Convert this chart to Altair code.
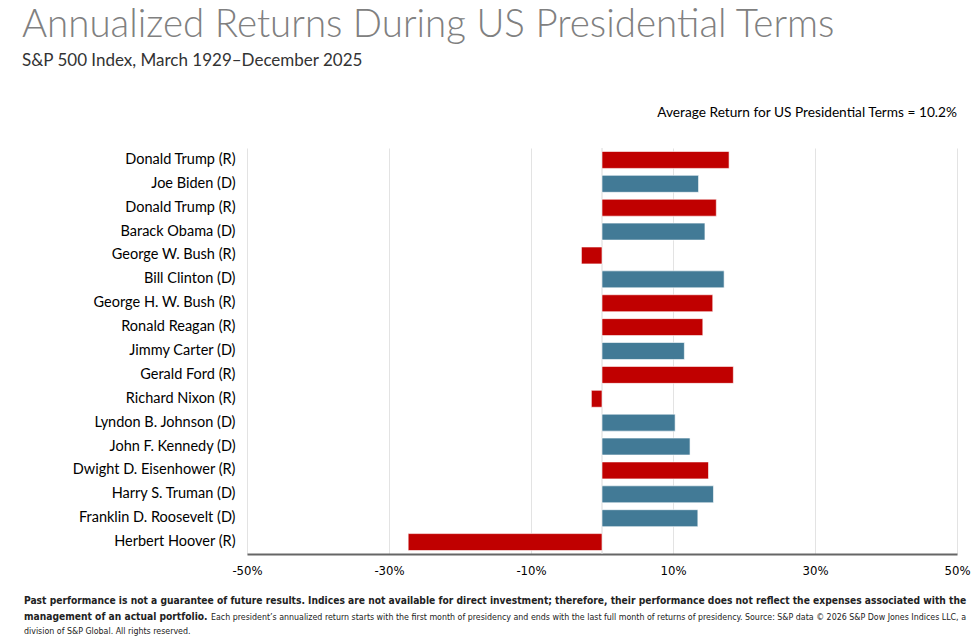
import altair as alt
import pandas as pd

presidents = ["Donald Trump (R)", "Joe Biden (D)", "Donald Trump (R)", "Barack Obama (D)",
              "George W. Bush (R)", "Bill Clinton (D)", "George H. W. Bush (R)", "Ronald Reagan (R)",
              "Jimmy Carter (D)", "Gerald Ford (R)", "Richard Nixon (R)", "Lyndon B. Johnson (D)",
              "John F. Kennedy (D)", "Dwight D. Eisenhower (R)", "Harry S. Truman (D)",
              "Franklin D. Roosevelt (D)", "Herbert Hoover (R)"]
term_start = [2025, 2021, 2017, 2009, 2001, 1993, 1989, 1981, 1977, 1974, 1969, 1963, 1961,
              1953, 1945, 1933, 1929]
returns = [17.9, 13.6, 16.1, 14.5, -2.9, 17.2, 15.6, 14.2, 11.6, 18.5, -1.5, 10.3, 12.4,
           15.0, 15.7, 13.5, -27.3]
parties = ["R", "D", "R", "D", "R", "D", "R", "R", "D", "R", "R", "D", "D", "R", "D", "D", "R"]
x_ticks = [-50, -30, -10, 10, 30, 50]

keys = [f"{p}|{t}" for p, t in zip(presidents, term_start)]
df = pd.DataFrame({"key": keys, "ret": returns, "party": parties})

MAIN = "Lato"
NARROW = "Liberation Sans Narrow, DejaVu Sans Condensed, sans-serif"

x_enc = alt.X("ret:Q", scale=alt.Scale(domain=[-50, 50], nice=False),
              axis=alt.Axis(values=x_ticks, labelExpr="datum.value + '%'", grid=True,
                            gridColor="#e3e3e3", domainColor="#666666", domainWidth=2,
                            ticks=False, labelFontSize=13, labelFont=NARROW, labelFlush=False,
                            labelColor="black", labelPadding=10, title=None))

bars = alt.Chart(df).mark_bar(stroke="white", strokeWidth=0.6).encode(
    x=x_enc,
    y=alt.Y("key:N", sort=keys,
            scale=alt.Scale(paddingInner=0.29, paddingOuter=0.145),
            axis=alt.Axis(title=None, ticks=False, domain=False, labelFontSize=14.5,
                          labelFont=MAIN, labelColor="black", labelPadding=12,
                          labelExpr="split(datum.label, '|')[0]")),
    color=alt.Color("party:N", scale=alt.Scale(domain=["R", "D"], range=["#C00000", "#427A96"]),
                    legend=None),
)

zero = alt.Chart(alt.Data(values=[{"z": 0}])).mark_rule(color="#dadada", strokeWidth=1).encode(
    x=alt.X("z:Q")
)

dummy = alt.Data(values=[{}])


def txt(text, x, y, size, color, font=MAIN, weight="normal", align="left"):
    return alt.Chart(dummy).mark_text(
        text=text, fontSize=size, color=color, font=font, fontWeight=weight,
        align=align, baseline="alphabetic"
    ).encode(x=alt.value(x), y=alt.value(y))


texts = [
    txt("Annualized Returns During US Presidential Terms", -225, -111, 38.5, "#808080", weight=300),
    txt("S&P 500 Index, March 1929\u2013December 2025", -225, -82, 17, "#333333"),
    txt("Average Return for US Presidential Terms = 10.2%", 710, -31, 13.7, "black", align="right"),
    txt("Past performance is not a guarantee of future results. Indices are not available for direct "
        "investment; therefore, their performance does not reflect the expenses associated with the",
        -223, 456, 10.2, "#222222", font=NARROW, weight="bold"),
    txt("management of an actual portfolio.", -223, 472, 10.2, "#222222", font=NARROW, weight="bold"),
    txt("Each president\u2019s annualized return starts with the first month of presidency and ends with "
        "the last full month of returns of presidency. Source: S&P data \u00a9 2026 S&P Dow Jones "
        "Indices LLC, a", -36, 472, 8.8, "#222222", font=NARROW),
    txt("division of S&P Global. All rights reserved.", -223, 486, 8.8, "#222222", font=NARROW),
]

chart = alt.layer(zero, bars, *texts).properties(
    width=710, height=406,
    autosize=alt.AutoSizeParams(type="none"),
    padding={"left": 247, "top": 148, "right": 23, "bottom": 88},
).configure_view(stroke=None)

chart.save("out.html", embed_options={"renderer": "svg", "actions": False})
